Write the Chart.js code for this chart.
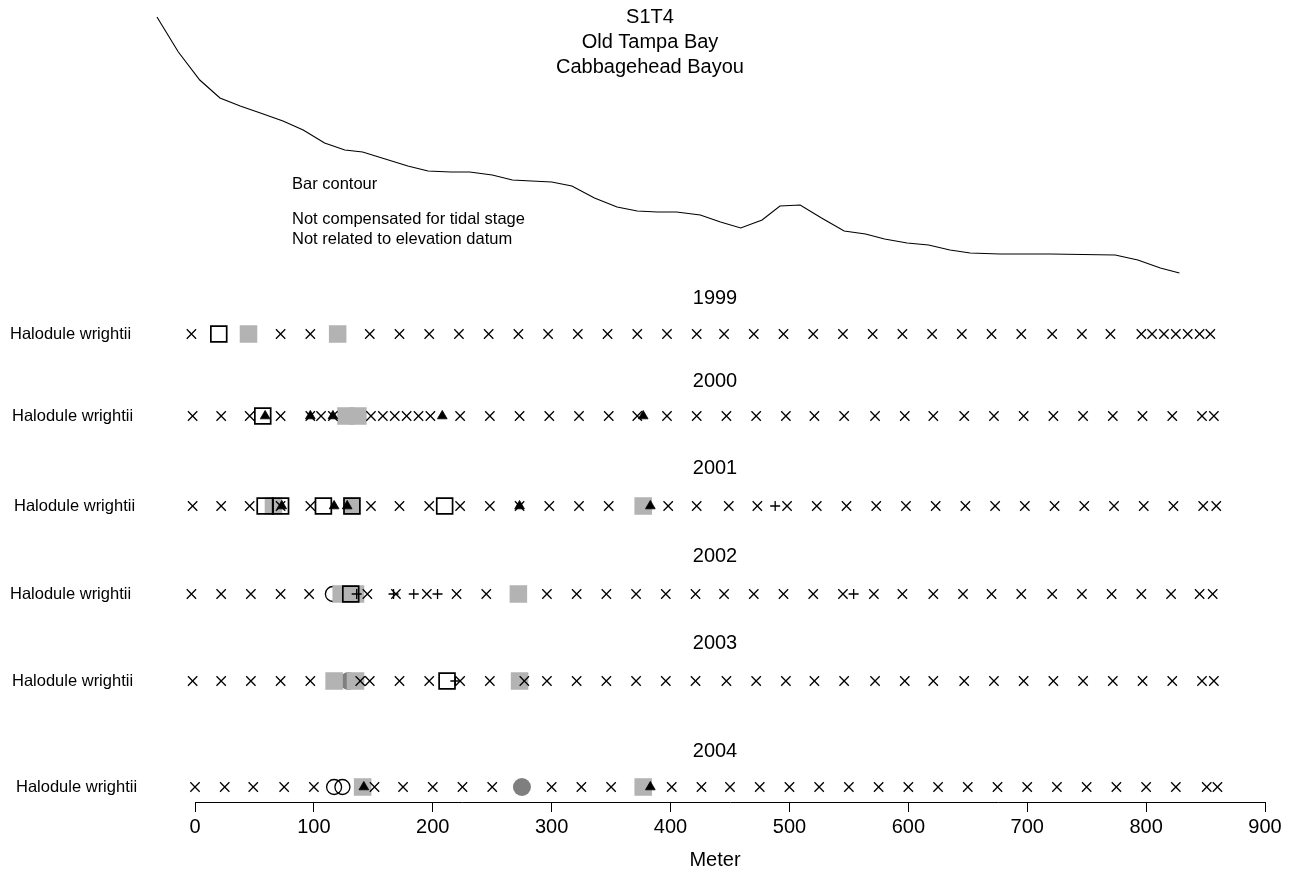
<!DOCTYPE html>
<html>
<head>
<meta charset="utf-8">
<script src="https://cdn.jsdelivr.net/npm/chart.js@4.4.1/dist/chart.umd.min.js"></script>
<style>
  html, body { margin: 0; padding: 0; background: #fff; }
  #wrap { width: 1300px; height: 873px; position: relative; }
</style>
</head>
<body>
<div id="wrap"><canvas id="c" width="1300" height="873"></canvas></div>
<script>
// Bar contour along the transect: distance (m) and relative elevation (m)
const profileDist = [-32, -14, 4, 21, 38, 55, 74, 91, 109, 126, 141, 160, 179, 196, 215, 231, 250, 267, 283, 300, 317, 336, 355, 372, 389, 405, 425, 442, 459, 477, 492, 509, 527, 546, 564, 580, 599, 617, 635, 652, 677, 719, 774, 793, 812, 828];
const profileElev = [0.00, -0.35, -0.63, -0.81, -0.89, -0.96, -1.04, -1.13, -1.26, -1.33, -1.35, -1.42, -1.49, -1.54, -1.55, -1.55, -1.58, -1.63, -1.64, -1.65, -1.69, -1.81, -1.90, -1.94, -1.95, -1.95, -1.98, -2.05, -2.11, -2.03, -1.89, -1.88, -2.01, -2.14, -2.17, -2.22, -2.26, -2.28, -2.33, -2.36, -2.37, -2.37, -2.38, -2.43, -2.51, -2.56];

const titleLines = ['S1T4', 'Old Tampa Bay', 'Cabbagehead Bayou'];
const profileNotes = ['Bar contour', 'Not compensated for tidal stage', 'Not related to elevation datum'];
const surveyYears = ['1999', '2000', '2001', '2002', '2003', '2004'];
const speciesName = 'Halodule wrightii';
const xTicks = [0, 100, 200, 300, 400, 500, 600, 700, 800, 900];
const xAxisTitle = 'Meter';

// Station positions (m), one list per survey year, grouped by symbol
const crossStations = [
  [-3, 72, 97, 147, 172, 197, 222, 247, 272, 297, 322, 347, 372, 397, 422, 445, 470, 495, 520, 545, 570, 595, 620, 645, 670, 695, 721, 746, 770, 796, 805, 815, 825, 835, 845, 854],
  [-2, 22, 46, 72, 97, 106, 116, 148, 158, 168, 178, 188, 198, 223, 248, 273, 298, 323, 348, 372, 397, 422, 447, 472, 497, 521, 546, 572, 597, 621, 647, 672, 697, 722, 747, 772, 797, 822, 847, 857],
  [-2, 22, 46, 72, 97, 148, 172, 197, 223, 248, 273, 298, 323, 348, 398, 422, 449, 473, 498, 523, 548, 573, 598, 623, 648, 673, 698, 723, 748, 773, 798, 823, 848, 859],
  [-3, 22, 47, 72, 96, 145, 169, 195, 220, 245, 296, 321, 346, 371, 396, 421, 445, 470, 495, 520, 545, 571, 595, 621, 646, 670, 695, 721, 746, 771, 796, 821, 845, 856],
  [-2, 22, 47, 72, 97, 139, 147, 172, 197, 223, 248, 277, 296, 321, 346, 371, 396, 421, 447, 472, 497, 521, 546, 572, 597, 621, 647, 672, 697, 722, 747, 772, 797, 822, 847, 857],
  [0, 25, 49, 75, 100, 151, 175, 200, 225, 250, 300, 325, 350, 401, 426, 450, 475, 500, 525, 550, 575, 600, 625, 650, 675, 700, 725, 750, 775, 800, 825, 851, 860]
];
const openSquareStations = [[20], [57], [59, 72, 108, 132, 210], [131], [212], []];
const graySquareStations = [[45, 120], [127, 137], [66, 132, 377], [123, 135, 272], [117, 135, 273], [141, 377]];
const triangleStations = [[], [59, 97, 116, 208, 377], [73, 117, 128, 273, 383], [], [], [142, 383]];
const plusStations = [[], [], [488], [136, 167, 184, 204, 554], [219], []];
const openCircleStations = [[], [], [], [116], [], [117, 124]];
const grayCircleStations = [[], [], [], [], [129], [275]];

// Layout: vertical placement of each year's strip (pixels from top of plot area)
const rowY = [334, 416, 506, 594, 681, 787];
const yearLabelY = [298, 381, 468, 556, 643, 751];
const speciesLabelX = [10, 12, 14, 10, 12, 16];
const FONT = '"Liberation Sans", Arial, Helvetica, sans-serif';
const BASE_PX = 20;     // title, years, axis
const SMALL_PX = 16.5;  // notes and row labels

const symbolStyles = {
  grayCircle:  { list: grayCircleStations,  order: 7, pointStyle: 'circle',   radius: 9,    backgroundColor: '#7f7f7f', borderColor: '#7f7f7f', borderWidth: 0 },
  openCircle:  { list: openCircleStations,  order: 6, pointStyle: 'circle',   radius: 7.5,  backgroundColor: 'rgba(0,0,0,0)', borderColor: '#000', borderWidth: 1.3 },
  graySquare:  { list: graySquareStations,  order: 5, pointStyle: 'rect',     radius: 12.4, backgroundColor: '#b3b3b3', borderColor: '#b3b3b3', borderWidth: 0 },
  openSquare:  { list: openSquareStations,  order: 4, pointStyle: 'rect',     radius: 11.2, backgroundColor: 'rgba(0,0,0,0)', borderColor: '#000', borderWidth: 1.7 },
  cross:       { list: crossStations,       order: 3, pointStyle: 'crossRot', radius: 6.6,  backgroundColor: '#000', borderColor: '#000', borderWidth: 1.3 },
  plus:        { list: plusStations,        order: 2, pointStyle: 'cross',    radius: 5,    backgroundColor: '#000', borderColor: '#000', borderWidth: 1.3 },
  triangle:    { list: triangleStations,    order: 1, pointStyle: 'triangle', radius: 5.6,  backgroundColor: '#000', borderColor: '#000', borderWidth: 0.8 }
};

const datasets = [];
datasets.push({
  type: 'line',
  label: 'Bar contour',
  data: profileDist.map((d, i) => ({ x: d, y: profileElev[i] })),
  yAxisID: 'yProf',
  borderColor: '#000',
  borderWidth: 1.1,
  pointRadius: 0,
  tension: 0,
  fill: false,
  clip: false,
  order: 10
});
Object.keys(symbolStyles).forEach(key => {
  const s = symbolStyles[key];
  s.list.forEach((stations, r) => {
    if (!stations.length) return;
    datasets.push({
      type: 'scatter',
      label: key + ' ' + surveyYears[r],
      data: stations.map(x => ({ x: x, y: rowY[r] })),
      yAxisID: 'y',
      pointStyle: s.pointStyle,
      pointRadius: s.radius,
      pointBackgroundColor: s.backgroundColor,
      pointBorderColor: s.borderColor,
      pointBorderWidth: s.borderWidth,
      showLine: false,
      clip: false,
      order: s.order
    });
  });
});

const textPlugin = {
  id: 'transectText',
  afterDraw(chart) {
    const ctx = chart.ctx;
    const ys = chart.scales.y;
    ctx.save();
    ctx.fillStyle = '#000';
    ctx.textBaseline = 'middle';

    ctx.font = BASE_PX + 'px ' + FONT;
    ctx.textAlign = 'center';
    titleLines.forEach((t, i) => ctx.fillText(t, 650, 17 + i * 25));

    ctx.font = SMALL_PX + 'px ' + FONT;
    ctx.textAlign = 'left';
    ctx.fillText(profileNotes[0], 292, 184);
    ctx.fillText(profileNotes[1], 292, 219);
    ctx.fillText(profileNotes[2], 292, 239);

    surveyYears.forEach((yr, r) => {
      ctx.font = BASE_PX + 'px ' + FONT;
      ctx.textAlign = 'center';
      ctx.fillText(yr, 715, yearLabelY[r]);
      ctx.font = SMALL_PX + 'px ' + FONT;
      ctx.textAlign = 'left';
      ctx.fillText(speciesName, speciesLabelX[r], ys.getPixelForValue(rowY[r]));
    });

    ctx.font = BASE_PX + 'px ' + FONT;
    ctx.textAlign = 'center';
    ctx.fillText(xAxisTitle, 715, 860);
    ctx.restore();
  }
};

new Chart(document.getElementById('c'), {
  data: { datasets: datasets },
  plugins: [textPlugin],
  options: {
    responsive: false,
    animation: false,
    events: [],
    layout: { autoPadding: false, padding: { left: 195, right: 35, top: 0, bottom: 0 } },
    plugins: { legend: { display: false }, tooltip: { enabled: false }, title: { display: false } },
    scales: {
      x: {
        type: 'linear',
        // range fixed after the data limits so the contour left of 0 m is still drawn
        afterDataLimits: s => { s.min = xTicks[0]; s.max = xTicks[xTicks.length - 1]; },
        afterBuildTicks: s => { s.ticks = xTicks.map(v => ({ value: v })); s.min = xTicks[0]; s.max = xTicks[xTicks.length - 1]; },
        afterFit: s => { s.height = 71; },
        ticks: { color: '#000', font: { family: FONT, size: BASE_PX }, padding: 3, maxRotation: 0, autoSkip: false },
        grid: { drawOnChartArea: false, drawTicks: true, tickLength: 10, color: '#000', lineWidth: 1 },
        border: { display: true, color: '#000', width: 1 }
      },
      y: { type: 'linear', min: 0, max: 802, reverse: true, display: false },
      yProf: { type: 'linear', min: -7.85, max: 0.17, display: false }
    }
  }
});
</script>
</body>
</html>
